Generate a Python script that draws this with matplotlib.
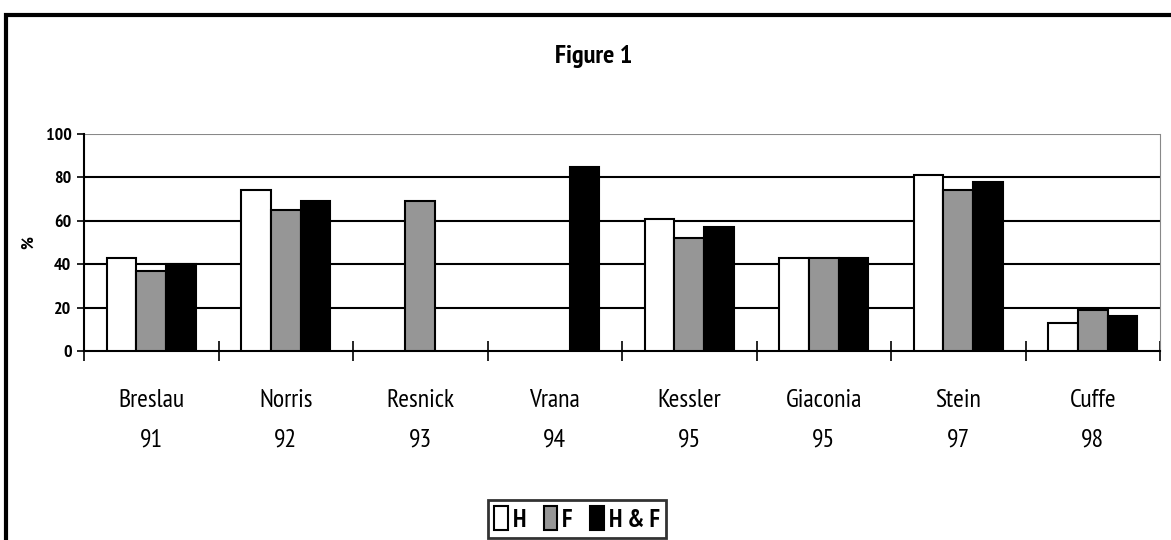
import numpy as np
import matplotlib
matplotlib.use("Agg")
import matplotlib.pyplot as plt
from matplotlib.patches import Rectangle, Patch
from matplotlib import font_manager

categories = ["Breslau\n91", "Norris\n92", "Resnick\n93", "Vrana\n94",
              "Kessler\n95", "Giaconia\n95", "Stein\n97", "Cuffe\n98"]
series_names = ["H", "F", "H & F"]
h_vals = [43, 74, np.nan, np.nan, 61, 43, 81, 13]
f_vals = [37, 65, 69, np.nan, 52, 43, 74, 19]
hf_vals = [40, 69, np.nan, 85, 57, 43, 78, 16]
y_ticks = [0, 20, 40, 60, 80, 100]

fl = font_manager.fontManager.ttflist
def has_bold(name):
    return any(f.name == name and f.style == "normal" and
               (f.weight if isinstance(f.weight, int) else 400) >= 700 and
               "[" not in f.fname for f in fl)
def has_reg(name):
    return any(f.name == name and f.style == "normal" and
               (f.weight if isinstance(f.weight, int) else 400) == 400 for f in fl)

chosen = "Liberation Sans"
for cand in ["Liberation Sans Narrow", "Arial Narrow", "Archivo Narrow", "PT Sans Narrow",
             "Roboto Condensed", "Fira Sans Condensed", "IBM Plex Sans Condensed",
             "Barlow Semi Condensed", "Barlow Condensed", "Encode Sans Condensed",
             "Open Sans Condensed", "Pragati Narrow", "Asap Condensed", "Sofia Sans Condensed"]:
    if has_bold(cand) and has_reg(cand):
        chosen = cand
        break
plt.rcParams['font.family'] = [chosen, 'DejaVu Sans']

fig = plt.figure(figsize=(11.71, 5.40), dpi=100)
ax = fig.add_axes([84/1171, 1-351/540, (1160-84)/1171, (351-134)/540])

x = np.arange(len(categories))
w = 0.22
colors = ["white", "#969696", "black"]
for i, (vals, c) in enumerate(zip([h_vals, f_vals, hf_vals], colors)):
    ax.bar(x + (i-1)*w, vals, width=w, color=c, edgecolor="black", linewidth=1.5,
           label=series_names[i], zorder=3)

ax.set_xlim(-0.5, len(categories)-0.5)
ax.set_ylim(0, 100)
for yv in y_ticks[1:]:
    ax.axhline(yv, color="#888888" if yv == 100 else "black", linewidth=1.5, zorder=1)

ax.set_yticks(y_ticks)
ax.set_yticklabels([str(v) for v in y_ticks], fontsize=13, fontweight="bold")
ax.tick_params(axis="y", length=5, width=1.2, pad=4)
ax.set_xticks(x)
ax.set_xticklabels(categories, fontsize=18.5, linespacing=1.9)
ax.tick_params(axis="x", which="major", length=0, pad=27.5)
ax.set_xticks(np.arange(-0.5, len(categories)), minor=True)
ax.tick_params(axis="x", which="minor", direction="inout", length=15, width=1.2)

ax.spines["top"].set_visible(False)
ax.spines["right"].set_color("#888888")
ax.spines["left"].set_linewidth(1.5)
ax.spines["bottom"].set_linewidth(1.5)

ax.set_ylabel("%", fontsize=13, fontweight="bold", labelpad=6)

fig.text(594/1171, 1-57/540, "Figure 1", ha="center", va="center",
         fontsize=19, fontweight="bold")

# outer frame
fig.add_artist(Rectangle((6/1171, -0.2), 1.2, 1-15/540+0.2, transform=fig.transFigure,
                         fill=False, edgecolor="black", linewidth=3, clip_on=False))

handles = [Patch(facecolor=c, edgecolor="black", linewidth=1.5) for c in colors]
leg = fig.legend(handles, series_names, loc="center", bbox_to_anchor=(577/1171, 1-519/540),
                 ncol=3, frameon=True, fancybox=False, edgecolor="black",
                 handlelength=0.55, handleheight=1.1, handletextpad=0.2, columnspacing=0.7,
                 borderpad=0.25, prop={"size": 18, "weight": "bold"})
leg.get_frame().set_linewidth(2)

fig.savefig("out.png", dpi=100)
